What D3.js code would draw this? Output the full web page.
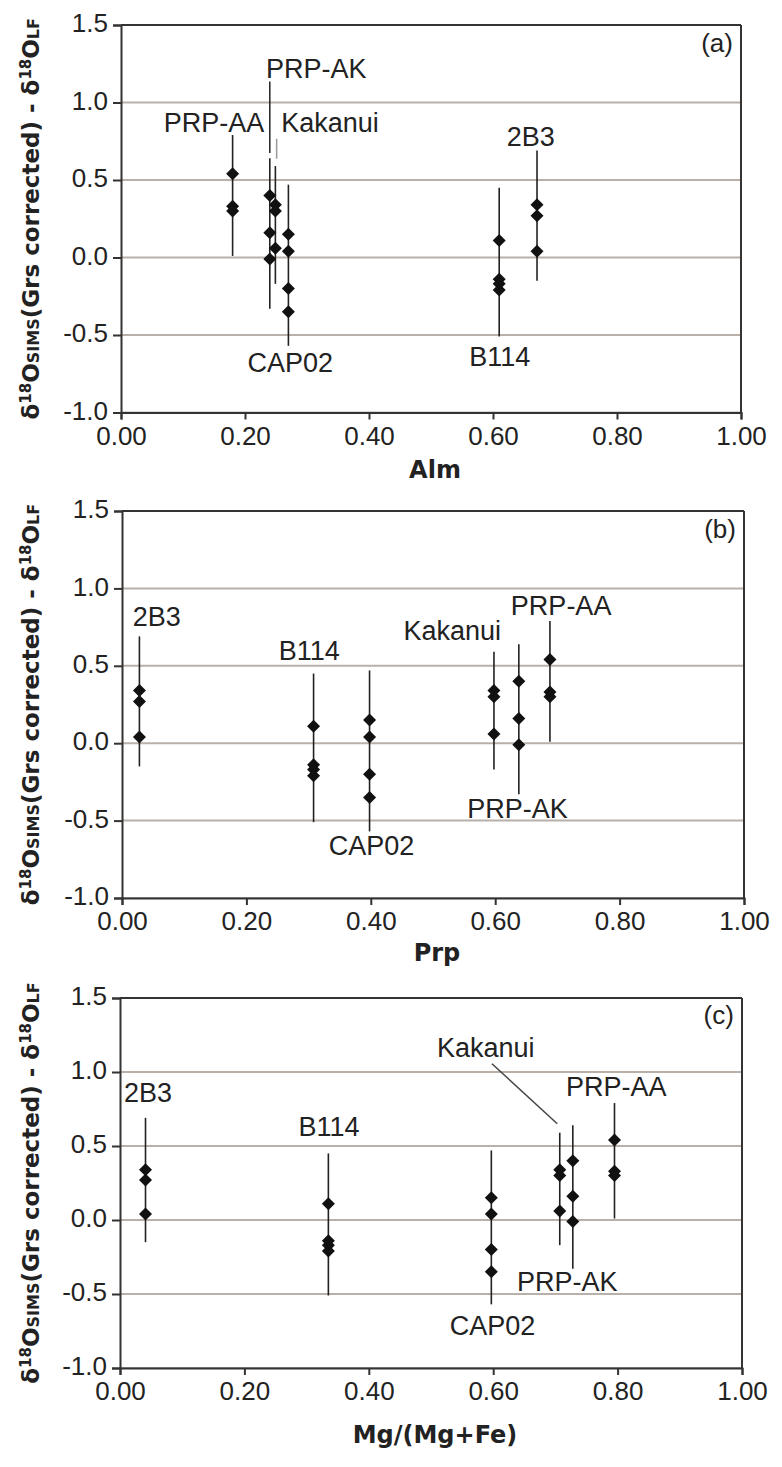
<!DOCTYPE html>
<html><head><meta charset="utf-8">
<script src="https://cdn.jsdelivr.net/npm/d3@7"></script>
<style>body{margin:0;background:#fff}</style>
</head><body>
<svg id="chart" width="782" height="1467"></svg>
<script>
// ---- data ----
const samples = ["PRP-AA", "PRP-AK", "Kakanui", "CAP02", "B114", "2B3"];
const alm   = [0.180, 0.240, 0.249, 0.270, 0.610, 0.671];
const prp   = [0.688, 0.638, 0.598, 0.398, 0.308, 0.028];
const mgNum = [0.795, 0.728, 0.707, 0.597, 0.335, 0.041];
const delta = [
  [0.54, 0.33, 0.30],
  [0.40, 0.16, -0.01],
  [0.34, 0.30, 0.06],
  [0.15, 0.04, -0.20, -0.35],
  [0.11, -0.14, -0.17, -0.21],
  [0.34, 0.27, 0.04]
];
const errLow  = [0.01, -0.33, -0.17, -0.57, -0.51, -0.15];
const errHigh = [0.79, 0.64, 0.59, 0.47, 0.45, 0.69];
const xTicks = [0, 0.2, 0.4, 0.6, 0.8, 1.0];
const yTicks = [-1.0, -0.5, 0.0, 0.5, 1.0, 1.5];
const gridVals = [-1.0, -0.5, 0.0, 0.5, 1.0];

// ---- layout / annotations ----
const panels = [
  {tag: "(a)", xVals: alm, xTitle: "Alm", left: 121, right: 741, top: 25, bottom: 412.5, titleDy: 65,
   labels: [["PRP-AA", 0.150, 0.81], ["Kakanui", 0.337, 0.81], ["PRP-AK", 0.315, 1.16],
            ["CAP02", 0.273, -0.737], ["2B3", 0.661, 0.72], ["B114", 0.611, -0.70]],
   leaders: [[0.240, 1.135, 0.240, 0.675, "#222"], [0.251, 0.766, 0.251, 0.637, "#999"]]},
  {tag: "(b)", xVals: prp, xTitle: "Prp", left: 122, right: 744, top: 511, bottom: 898, titleDy: 63,
   labels: [["2B3", 0.056, 0.756], ["B114", 0.301, 0.537], ["Kakanui", 0.531, 0.666],
            ["PRP-AA", 0.706, 0.828], ["PRP-AK", 0.636, -0.485], ["CAP02", 0.401, -0.724]],
   leaders: []},
  {tag: "(c)", xVals: mgNum, xTitle: "Mg/(Mg+Fe)", left: 120, right: 742, top: 998, bottom: 1368, titleDy: 75,
   labels: [["2B3", 0.045, 0.80], ["B114", 0.336, 0.57], ["Kakanui", 0.588, 1.098],
            ["PRP-AA", 0.798, 0.84], ["PRP-AK", 0.719, -0.48], ["CAP02", 0.599, -0.776]],
   leaders: [[0.598, 1.056, 0.703, 0.65, "#444"]]}
];

const svg = d3.select("#chart");
const tickFont = "'Liberation Sans', Arial, sans-serif";
const boldFont = "'DejaVu Sans', sans-serif";
const axisColor = "#333";
const gridColor = "#b8b0a9";

panels.forEach(p => {
  const x = d3.scaleLinear().domain([0, 1]).range([p.left, p.right]);
  const y = d3.scaleLinear().domain([-1, 1.5]).range([p.bottom, p.top]);
  const g = svg.append("g");

  g.selectAll(".grid").data(gridVals).join("line")
    .attr("x1", p.left).attr("x2", p.right)
    .attr("y1", d => y(d)).attr("y2", d => y(d))
    .attr("stroke", gridColor).attr("stroke-width", 2);

  g.append("line").attr("x1", p.left).attr("x2", p.right).attr("y1", y(1.5)).attr("y2", y(1.5))
    .attr("stroke", axisColor).attr("stroke-width", 2);
  g.append("line").attr("x1", p.right).attr("x2", p.right).attr("y1", y(1.5)).attr("y2", y(-1))
    .attr("stroke", axisColor).attr("stroke-width", 2);

  const xAxis = d3.axisBottom(x).tickValues(xTicks).tickSize(7).tickFormat(d => d.toFixed(2));
  const yAxis = d3.axisLeft(y).tickValues(yTicks).tickSize(8).tickFormat(d => d.toFixed(1));
  const xg = g.append("g").attr("transform", `translate(0,${p.bottom})`).call(xAxis);
  const yg = g.append("g").attr("transform", `translate(${p.left},0)`).call(yAxis);
  [xg, yg].forEach(a => {
    a.select(".domain").attr("stroke", axisColor).attr("stroke-width", 2);
    a.selectAll(".tick line").attr("stroke", axisColor).attr("stroke-width", 2);
    a.selectAll(".tick text").attr("fill", "#222").style("font-family", tickFont).style("font-size", "26px");
  });
  xg.selectAll(".tick text").attr("y", 14).attr("dy", "0.71em");
  yg.selectAll(".tick text").attr("x", -13).attr("dy", "0.26em");

  svg.append("text").attr("x", (p.left + p.right) / 2 + 4).attr("y", p.bottom + p.titleDy)
    .attr("text-anchor", "middle").style("font-family", boldFont).style("font-weight", "bold")
    .style("font-size", "24px").attr("fill", "#222").text(p.xTitle);

  const yt = svg.append("text")
    .attr("transform", `translate(39,${(p.top + p.bottom) / 2}) rotate(-90)`)
    .attr("text-anchor", "middle").style("font-family", boldFont).style("font-weight", "bold")
    .style("font-size", "23px").attr("fill", "#222");
  const parts = [["δ", 0, 23], ["18", -8, 15], ["O", 8, 23], ["SIMS", 0, 16],
                 ["(Grs corrected) - δ", 0, 23], ["18", -8, 15], ["O", 8, 23], ["LF", 0, 16]];
  parts.forEach(([t, dy, fs]) => yt.append("tspan").attr("dy", dy).style("font-size", fs + "px").text(t));

  svg.append("text").attr("x", x(0.987)).attr("y", y(1.327)).attr("text-anchor", "end")
    .style("font-family", tickFont).style("font-size", "26px").attr("fill", "#222").text(p.tag);

  g.selectAll(".leader").data(p.leaders).join("line")
    .attr("x1", d => x(d[0])).attr("y1", d => y(d[1]))
    .attr("x2", d => x(d[2])).attr("y2", d => y(d[3]))
    .attr("stroke", d => d[4]).attr("stroke-width", 1.5);

  g.selectAll(".err").data(samples).join("line")
    .attr("x1", (d, i) => x(p.xVals[i])).attr("x2", (d, i) => x(p.xVals[i]))
    .attr("y1", (d, i) => y(errLow[i])).attr("y2", (d, i) => y(errHigh[i]))
    .attr("stroke", "#222").attr("stroke-width", 1.6);

  const pts = [];
  samples.forEach((s, i) => delta[i].forEach(v => pts.push([p.xVals[i], v])));
  const diamond = "M0,-6.5L6.5,0L0,6.5L-6.5,0Z";
  g.selectAll(".pt").data(pts).join("path")
    .attr("d", diamond)
    .attr("transform", d => `translate(${x(d[0])},${y(d[1])})`)
    .attr("fill", "#111");

  g.selectAll(".lab").data(p.labels).join("text")
    .attr("x", d => x(d[1])).attr("y", d => y(d[2]))
    .attr("text-anchor", "middle").style("font-family", tickFont).style("font-size", "27px")
    .attr("fill", "#222").text(d => d[0]);
});
</script>
</body></html>
